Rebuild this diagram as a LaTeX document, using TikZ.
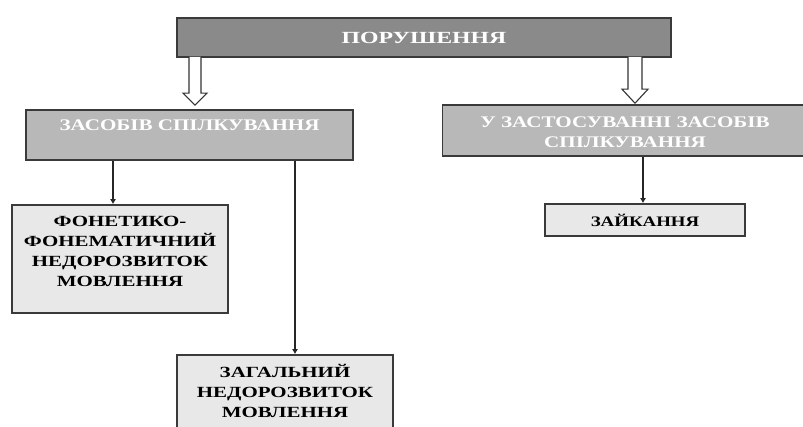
\documentclass[tikz,border=0pt]{standalone}
\usepackage{fontspec}
\setmainfont{Liberation Serif}
\newfontfamily\bxf{Liberation Serif Bold}[FakeStretch=1.3]
\newfontfamily\bxfl{Liberation Serif Bold}[FakeStretch=1.35]
\newfontfamily\bxft{Liberation Serif Bold}[FakeStretch=1.4]
\usetikzlibrary{arrows.meta,calc}
\definecolor{topfill}{HTML}{8A8A8A}
\definecolor{midfill}{HTML}{B8B8B8}
\definecolor{leaffill}{HTML}{E8E8E8}
\definecolor{edge}{HTML}{3A3A3A}
\begin{document}
\begin{tikzpicture}[x=1pt,y=-1pt,
  topbox/.style={draw=edge,line width=1.6pt,fill=topfill,minimum width=494pt,minimum height=39pt,inner sep=0pt},
  midbox/.style={draw=edge,line width=1.6pt,fill=midfill,inner sep=0pt},
  leafbox/.style={draw=edge,line width=1.6pt,fill=leaffill,inner sep=0pt},
  toptext/.style={text=white,font=\bxft\fontsize{17}{20}\selectfont},
  midtext/.style={text=white,align=center,font=\bxf\fontsize{16.2}{20}\selectfont},
  leaftext/.style={text=black,align=center,font=\bxfl\fontsize{15.5}{20}\selectfont},
  smalltext/.style={text=black,align=center,font=\bxf\fontsize{14.5}{20}\selectfont},
  thin/.style={line width=1.8pt,draw=black!85,-{Latex[length=5pt,width=6pt]}},
  hollow/.style={draw=black!80,line width=1.1pt,fill=white,line join=miter}
]
\useasboundingbox (0,0) rectangle (803,427);
\fill[white] (0,0) rectangle (803,427);

% top box
\node[topbox] (top) at (424,37.5) {};
\node[toptext] (toptxt) at (424,37.5) {ПОРУШЕННЯ};

% second level
\node[midbox,minimum width=327pt,minimum height=50pt] (left) at (189.5,135) {};
\node[midtext] (lefttxt) at (189.5,125) {ЗАСОБІВ СПІЛКУВАННЯ};
\node[midbox,minimum width=375pt,minimum height=51pt] (right) at (630,130.5) {};
\node[midtext] (righttxt) at (625,132) {У ЗАСТОСУВАННІ ЗАСОБІВ\\СПІЛКУВАННЯ};

% leaves
\node[leafbox,minimum width=216pt,minimum height=108pt] (fon) at (120,259) {};
\node[leaftext] (fontxt) at (120,251) {ФОНЕТИКО-\\ФОНЕМАТИЧНИЙ\\НЕДОРОЗВИТОК\\МОВЛЕННЯ};
\node[leafbox,minimum width=216pt,minimum height=86pt] (zag) at (285,398) {};
\node[leaftext] (zagtxt) at (285,391) {ЗАГАЛЬНИЙ\\НЕДОРОЗВИТОК\\МОВЛЕННЯ};
\node[leafbox,minimum width=200pt,minimum height=32pt] (zaik) at (645,220) {};
\node[smalltext] (zaiktxt) at (645,220) {ЗАЙКАННЯ};

% hollow arrows from top box
\coordinate (ha1) at (top.south -| 195,0);
\coordinate (hb1) at (left.north -| 195,0);
\coordinate (ha2) at (top.south -| 635,0);
\coordinate (hb2) at (right.north -| 635,0);
\draw[hollow] ($(ha1)+(-6,-1)$) -- ($(hb1)+(-6,-16)$) -- ($(hb1)+(-12,-16)$) -- ($(hb1)+(0,-4)$)
  -- ($(hb1)+(12,-16)$) -- ($(hb1)+(6,-16)$) -- ($(ha1)+(6,-1)$);
\draw[hollow] ($(ha2)+(-7,-1)$) -- ($(hb2)+(-7,-15)$) -- ($(hb2)+(-13,-15)$) -- ($(hb2)+(0,-1)$)
  -- ($(hb2)+(13,-15)$) -- ($(hb2)+(7,-15)$) -- ($(ha2)+(7,-1)$);

% thin connectors
\draw[thin] (left.south -| 113,0) -- (fon.north -| 113,0);
\draw[thin] (left.south -| 295,0) -- (zag.north -| 295,0);
\draw[thin] (right.south -| 643,0) -- (zaik.north -| 643,0);
\end{tikzpicture}
\end{document}
